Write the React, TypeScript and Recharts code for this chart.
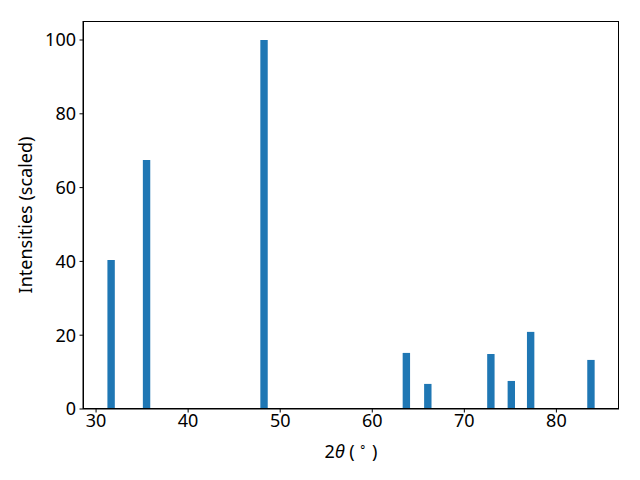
import { BarChart, Bar, XAxis, YAxis, Label } from "recharts";

const positions = [31.63, 35.48, 48.24, 63.7, 66.03, 72.88, 75.1, 77.2, 83.75];
const intensities = [40.4, 67.5, 100, 15.2, 6.8, 14.9, 7.6, 20.9, 13.3];
const xTicks = [30, 40, 50, 60, 70, 80];
const yTicks = [0, 20, 40, 60, 80, 100];

const data = positions.map((x, i) => ({ x, y: intensities[i] }));

const FONT = "'Noto Sans', 'Open Sans', sans-serif";
const FS = 18;

function XLabel({ viewBox }: any) {
  const cx = viewBox.x + viewBox.width / 2;
  return (
    <text x={cx} y={458} textAnchor="middle" fontFamily={FONT} fontSize={FS} fill="#000">
      <tspan>2</tspan>
      <tspan fontStyle="italic">θ</tspan>
      <tspan> ( </tspan>
      <tspan fontSize={12} dy={-7}>∘</tspan>
      <tspan dy={7}> )</tspan>
    </text>
  );
}

export default function App() {
  return (
    <div style={{ position: "absolute", left: 0, top: 0, width: 640, height: 480, background: "#fff" }}>
      <BarChart
        width={640}
        height={480}
        data={data}
        margin={{ top: 21, right: 21, bottom: 0, left: 0 }}
        barSize={7.4}
      >
        <XAxis
          dataKey="x"
          type="number"
          domain={[28.58, 86.8]}
          ticks={xTicks}
          allowDataOverflow
          height={71}
          tickSize={3.5}
          tickMargin={2}
          axisLine={{ stroke: "#000" }}
          tickLine={{ stroke: "#000" }}
          tick={{ fill: "#000", fontSize: FS, fontFamily: FONT }}
        >
          <Label content={<XLabel />} />
        </XAxis>
        <YAxis
          type="number"
          domain={[0, 105.15]}
          ticks={yTicks}
          allowDataOverflow
          width={83}
          tickSize={3.5}
          tickMargin={3.5}
          axisLine={{ stroke: "#000" }}
          tickLine={{ stroke: "#000" }}
          tick={{ fill: "#000", fontSize: FS, fontFamily: FONT }}
        >
          <Label
            value="Intensities (scaled)"
            angle={-90}
            position="insideLeft"
            offset={0}
            dx={26}
            style={{ textAnchor: "middle", fill: "#000", fontSize: FS, fontFamily: FONT }}
          />
        </YAxis>
        <Bar dataKey="y" fill="#1f77b4" isAnimationActive={false} />
      </BarChart>
      <div
        style={{
          position: "absolute",
          left: 83,
          top: 21,
          width: 536,
          height: 388,
          border: "1px solid #000",
          boxSizing: "border-box",
          pointerEvents: "none",
        }}
      />
    </div>
  );
}
